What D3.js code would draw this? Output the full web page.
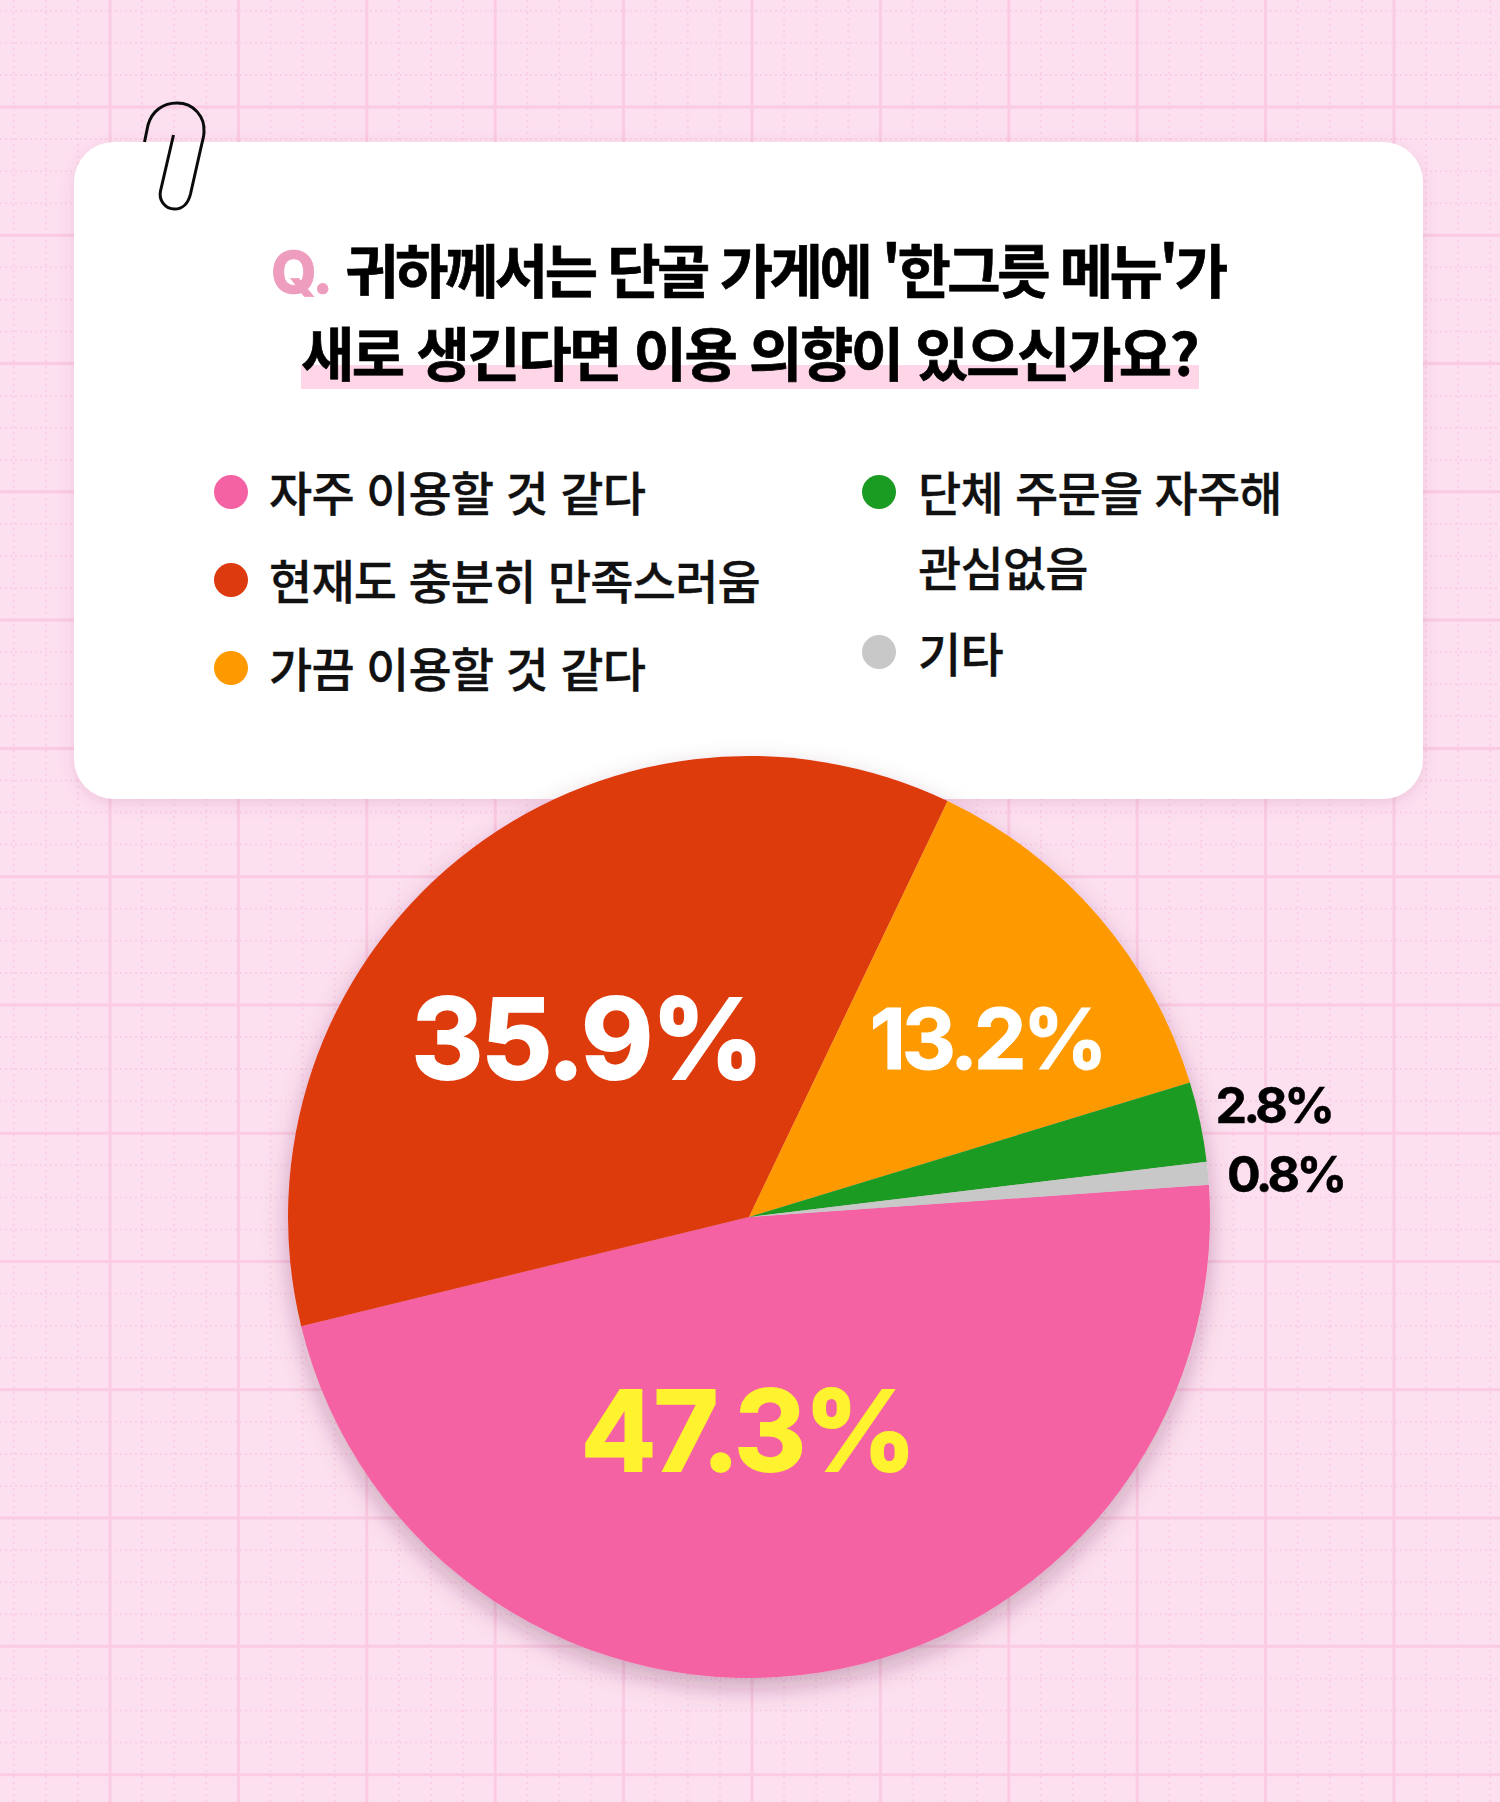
<!DOCTYPE html>
<html lang="ko"><head><meta charset="utf-8">
<script src="https://cdn.jsdelivr.net/npm/d3@7"></script>
<style>
html,body{margin:0;padding:0;background:#FDE0F0}
svg{display:block}
text{font-family:"Inter","Noto Sans CJK KR",sans-serif}
.ko{font-family:"Noto Sans CJK KR","Inter",sans-serif}
</style></head><body>
<svg id="c" width="1500" height="1802"></svg>
<script>
const titleLines = ["귀하께서는 단골 가게에 '한그릇 메뉴'가", "새로 생긴다면 이용 의향이 있으신가요?"];
const categories = ["자주 이용할 것 같다", "현재도 충분히 만족스러움", "가끔 이용할 것 같다", "단체 주문을 자주해 관심없음", "기타"];
const values = [47.3, 35.9, 13.2, 2.8, 0.8];
const labels = ["47.3%", "35.9%", "13.2%", "2.8%", "0.8%"];
const colors = ["#F462A3", "#DE3A10", "#FF9900", "#1A9B22", "#C8C8C8"];

const W = 1500, H = 1802;
const svg = d3.select("#c");
const defs = svg.append("defs");
const f1 = defs.append("filter").attr("id","cardS").attr("x","-5%").attr("y","-5%").attr("width","110%").attr("height","112%");
f1.append("feDropShadow").attr("dx",0).attr("dy",4).attr("stdDeviation",8).attr("flood-color","#B04A80").attr("flood-opacity",.18);
const f2 = defs.append("filter").attr("id","pieS").attr("x","-10%").attr("y","-10%").attr("width","120%").attr("height","120%");
f2.append("feDropShadow").attr("dx",0).attr("dy",10).attr("stdDeviation",12).attr("flood-color","#5A2040").attr("flood-opacity",.3);

// background grid paper
svg.append("rect").attr("width",W).attr("height",H).attr("fill","#FDE0F0");
const gx = 110, gy = 107, minorX = 32.1, minorY = 32.07;
const g = svg.append("g");
d3.range(-3,44).forEach(i=>{
  const x = gx + i*minorX, major = (i%4===0);
  if(!major) g.append("line").attr("x1",x).attr("x2",x).attr("y1",0).attr("y2",H).attr("stroke","#FACFE5").attr("stroke-width",2).attr("stroke-dasharray","2 4");
});
d3.range(-3,54).forEach(i=>{
  const y = gy + i*minorY, major = (i%4===0);
  if(!major) g.append("line").attr("y1",y).attr("y2",y).attr("x1",0).attr("x2",W).attr("stroke","#FACFE5").attr("stroke-width",2).attr("stroke-dasharray","2 3");
});
d3.range(0,12).forEach(i=>{
  const x = gx + i*minorX*4;
  g.append("line").attr("x1",x).attr("x2",x).attr("y1",0).attr("y2",H).attr("stroke","#FACBE2").attr("stroke-width",3);
});
d3.range(0,14).forEach(i=>{
  const y = gy + i*minorY*4;
  g.append("line").attr("y1",y).attr("y2",y).attr("x1",0).attr("x2",W).attr("stroke","#FACBE2").attr("stroke-width",3);
});

// card
svg.append("rect").attr("x",74).attr("y",142).attr("width",1349).attr("height",657).attr("rx",40).attr("fill","#fff").attr("filter","url(#cardS)");

// paper clip
svg.append("path").attr("d","M144.5 142 L148 125 C152 111 163 103 177 103 C194 103 205 117 204 132 C204 136 203 139 202 143 L190.500 194 C188 204 182 209 174.500 209 C165 209 158.500 200 160.500 191 L173.500 135")
  .attr("fill","none").attr("stroke","#0b0b0b").attr("stroke-width",3).attr("stroke-linecap","butt");

// title
svg.append("rect").attr("x",301).attr("y",365).attr("width",898).attr("height",24).attr("fill","#FFD6E8");
const t1 = svg.append("text").attr("class","ko").attr("x",748).attr("y",293).attr("text-anchor","middle")
  .attr("font-size",58).attr("font-weight",700).attr("letter-spacing",-3.5).attr("fill","#000").attr("stroke","#000").attr("stroke-width",.7);
t1.append("tspan").attr("fill","#EE9DBE").attr("stroke","#EE9DBE").attr("font-family","Inter").attr("font-weight",800).attr("font-size",58).attr("letter-spacing",-1.5).text("Q. ");
t1.append("tspan").attr("dx",5).text(titleLines[0]);
svg.append("text").attr("class","ko").attr("x",749).attr("y",376).attr("text-anchor","middle")
  .attr("font-size",58).attr("font-weight",700).attr("letter-spacing",-2.5).attr("fill","#000").attr("stroke","#000").attr("stroke-width",.7).text(titleLines[1]);

// legend
const dotX = [231,231,231,879,879], dotY = [492,580,668,492,652];
const legend = svg.append("g");
categories.forEach((c,i)=>{
  legend.append("circle").attr("cx",dotX[i]).attr("cy",dotY[i]).attr("r",17).attr("fill",colors[i]);
  const tx = i<3 ? 269 : 918;
  const common = s => s.attr("class","ko").attr("x",tx).attr("font-size",47).attr("font-weight",500).attr("letter-spacing",-.85).attr("fill","#111").attr("stroke","#111").attr("stroke-width",.3);
  if(i===3){
    const parts = ["단체 주문을 자주해","관심없음"];
    parts.forEach((p,k)=> legend.append("text").call(common).attr("y",511+k*75).text(p));
  } else {
    legend.append("text").call(common).attr("y",dotY[i]+(i===4?20:19)).text(c);
  }
});

// pie
const cx = 749, cy = 1217, R = 461;
const startDeg = 86;
const pie = d3.pie().sort(null).startAngle(startDeg*Math.PI/180).endAngle((startDeg+360)*Math.PI/180);
const arc = d3.arc().innerRadius(0).outerRadius(R);
const anchor = d3.arc().innerRadius(R*.5).outerRadius(R*.5);
const arcs = pie(values);
const gp = svg.append("g").attr("transform",`translate(${cx},${cy})`);
gp.append("g").attr("filter","url(#pieS)").selectAll("path").data(arcs).join("path")
  .attr("d",arc).attr("fill",(d,i)=>colors[i]);

const nudgeX = [-37,-17,63,299,307], nudgeY = [-14,1,-28,-64,-21];
const labelSize = [112,112,84,50,50];
const labelTrack = [-2.8,-2.6,-4.2,-3.5,-3.5];
const labelStroke = [2,2,1,.5,.5];
const labelFill = ["#FFF22F","#fff","#fff","#000","#000"];
gp.selectAll("text.v").data(arcs).join("text").attr("class","v")
  .attr("x",(d,i)=>anchor.centroid(d)[0]+nudgeX[i])
  .attr("y",(d,i)=>anchor.centroid(d)[1]+nudgeY[i])
  .attr("dy",".36em").attr("text-anchor","middle").attr("font-weight",700)
  .attr("font-size",(d,i)=>labelSize[i]).attr("fill",(d,i)=>labelFill[i])
  .attr("stroke",(d,i)=>labelFill[i]).attr("stroke-width",(d,i)=>labelStroke[i])
  .attr("letter-spacing",(d,i)=>labelTrack[i])
  .text((d,i)=>labels[i]);
</script></body></html>
